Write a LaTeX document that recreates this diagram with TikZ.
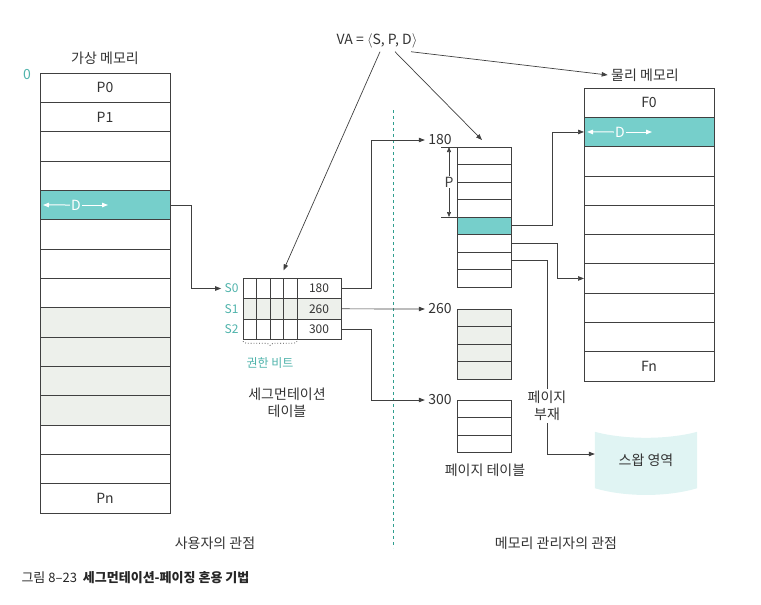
\documentclass[tikz,border=0pt]{standalone}
\usepackage{fontspec}
\setmainfont{Noto Sans CJK KR}
\usetikzlibrary{arrows.meta, positioning, decorations.pathreplacing, backgrounds}
\definecolor{TealFill}{HTML}{76CFCB}
\definecolor{TealText}{HTML}{4FB3AB}
\definecolor{TealDash}{HTML}{2F9E8F}
\definecolor{PaleGray}{HTML}{EDF0EB}
\definecolor{SwapFill}{HTML}{E0F4F3}
\definecolor{LineGray}{HTML}{404040}
\definecolor{TextGray}{HTML}{333333}

\begin{document}
\begin{tikzpicture}[
    x=1pt, y=-1pt,
    font=\fontsize{14pt}{17pt}\selectfont,
    text=TextGray,
    memrow/.style={draw=LineGray, line width=0.7pt, minimum width=130pt,
        minimum height=29.33pt, inner sep=0pt, outer sep=0pt},
    ptrow/.style={draw=LineGray, line width=0.7pt, minimum width=54pt,
        minimum height=17.5pt, inner sep=0pt, outer sep=0pt},
    bitcell/.style={draw=LineGray, line width=0.7pt, minimum width=13.5pt,
        minimum height=20.33pt, inner sep=0pt, outer sep=0pt},
    basecell/.style={bitcell, minimum width=44pt, font=\fontsize{12pt}{14pt}\selectfont},
    conn/.style={-{Triangle[length=6pt, width=4.5pt]}, line width=0.7pt, LineGray},
    offset/.style={-{Triangle[length=6pt, width=4.5pt]}, line width=1pt, white},
    dimline/.style={{Triangle[length=5pt, width=4pt]}-{Triangle[length=5pt, width=4pt]},
        line width=0.6pt, LineGray},
    tealtext/.style={text=TealText},
    swapbox/.style={minimum width=102pt, minimum height=56pt, inner sep=0pt},
]
\useasboundingbox (0,0) rectangle (761,605);

% 가상 메모리
\foreach \f/\t [count=\i from 0] in {white/P0, white/P1, white/, white/, TealFill/,
    white/, white/, white/, PaleGray/, PaleGray/, PaleGray/, PaleGray/, white/, white/, white/Pn}
  \node[memrow, fill=\f] (v\i) at (105, {87.67+29.33*\i}) {\t};
\node (vtitle) at (105,58) {가상 메모리};
\node[tealtext] (zero) at (27,75) {0};
\node[text=white, inner sep=1pt] (vd) at (76,205) {D};
\draw[offset] (vd.west) -- ([xshift=3pt]v4.west);
\draw[offset] (vd.east) -- ++(26,0);

% 가상 주소
\node (va) at (377,41) {VA = $\langle$S, P, D$\rangle$};

% 세그먼테이션 테이블
\foreach \r/\f/\v in {0/white/180, 1/PaleGray/260, 2/white/300}{
  \foreach \c in {0,...,3}
    \node[bitcell, fill=\f] (bit\r\c) at ({249.75+13.5*\c}, {288.5+20.33*\r}) {};
  \node[basecell, fill=\f] (s\r) at (319, {288.5+20.33*\r}) {\v};
  \node[tealtext, font=\fontsize{12pt}{14pt}\selectfont, left=1pt of bit\r0] (sl\r) {S\r};
}
\draw[LineGray, dotted, line width=0.8pt, decorate,
      decoration={brace, mirror, amplitude=4pt, raise=2pt}]
    (bit20.south west) -- (bit23.south east);
\node[tealtext, font=\fontsize{12pt}{14pt}\selectfont] (bits) at (270,363) {권한 비트};
\node[align=center] (stitle) at (287,403) {세그먼테이션\\테이블};

% 페이지 테이블
\foreach \f [count=\i from 0] in {white, white, white, white, TealFill, white, white, white}
  \node[ptrow, fill=\f] (pa\i) at (484, {155.75+17.5*\i}) {};
\foreach \i in {0,...,3}
  \node[ptrow, fill=PaleGray] (pb\i) at (484, {317.75+17.5*\i}) {};
\foreach \i in {0,...,2}
  \node[ptrow, fill=white] (pc\i) at (484, {408.75+17.5*\i}) {};
\node (l180) at (440,140) {180};
\node (l260) at (440,309) {260};
\node (l300) at (440,400) {300};
\node (ptcap) at (485,470) {페이지 테이블};

% 페이지 번호 범위
\draw[LineGray, line width=0.6pt] ([xshift=-16pt]pa0.north west) -- (pa0.north west);
\draw[LineGray, line width=0.6pt] ([xshift=-16pt]pa4.north west) -- (pa4.north west);
\draw[dimline] ([xshift=-8pt]pa0.north west) -- ([xshift=-8pt]pa4.north west)
    node[midway, fill=white, inner sep=1pt] (plen) {P};

% 물리 메모리
\foreach \f/\t [count=\i from 0] in {white/F0, TealFill/, white/, white/, white/,
    white/, white/, white/, white/, white/Fn}
  \node[memrow, fill=\f] (m\i) at (649, {102.65+29.3*\i}) {\t};
\node (ptitle) at (645,75) {물리 메모리};
\node[text=white, inner sep=1pt] (md) at (620,132) {D};
\draw[offset] (md.west) -- ([xshift=3pt]m1.west);
\draw[offset] (md.east) -- ++(26,0);

% 스왑 영역
\node[swapbox] (swap) at (646,460) {스왑 영역};
\begin{scope}[on background layer]
  \fill[SwapFill] (swap.north west) .. controls +(30,8) and +(-30,8) .. (swap.north east)
      -- (swap.south east) .. controls +(-30,9) and +(30,9) .. (swap.south west) -- cycle;
\end{scope}

% 구분선
\draw[TealDash, dash pattern=on 3pt off 3pt, line width=0.8pt] (393,110) -- (393,548);

% 흐름
\draw[conn] (v4.east) -- ++(21,0) |- (sl0.west);
\draw[conn] ([xshift=3pt]va.south) -- ([yshift=8pt]bit03.north west);
\draw[conn] ([xshift=18pt]va.south) -- ([xshift=-2pt, yshift=7pt]pa0.north);
\draw[conn] ([xshift=34pt]va.south) -- (ptitle.west);
\draw[conn] (s0.east) -- ++(30,0) |- (l180.west);
\draw[conn] (s1.east) -- (l260.west);
\draw[conn] (s2.east) -- ++(30,0) |- (l300.west);
\draw[conn] (pa4.east) -- ++(41,0) |- (m1.west);
\draw[conn] (pa5.east) -- ++(46,0) |- (m6.west);
\draw[conn] (pa6.east) -- ++(36,0) |- ([yshift=6pt]swap.west);
\node[fill=white, align=center, inner sep=2pt] (fault) at (547,406) {페이지\\부재};

% 관점
\node (uview) at (215,543) {사용자의 관점};
\node (mview) at (556,543) {메모리 관리자의 관점};

% 그림 제목
\node[anchor=west, text=black!85, font=\fontsize{13pt}{15pt}\selectfont] (cap) at (18,578)
    {그림 8–23\hspace{6pt}\textbf{세그먼테이션-페이징 혼용 기법}};
\end{tikzpicture}
\end{document}
